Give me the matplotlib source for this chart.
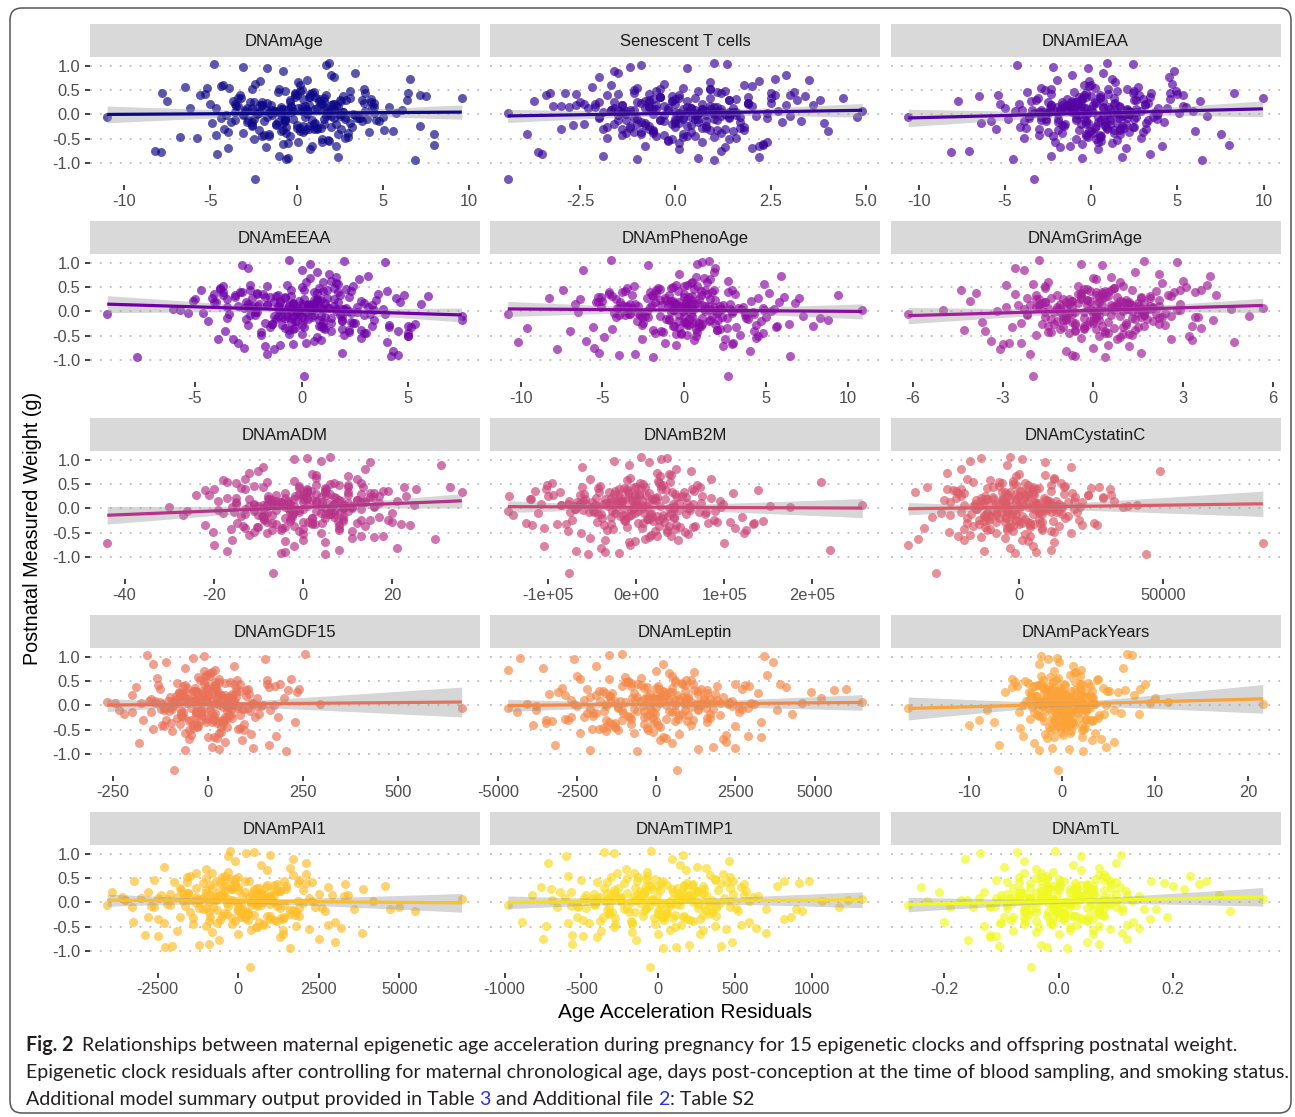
"""
Maternal epigenetic age acceleration vs offspring postnatal weight (Fig. 2)
15 clocks, facet-style scatter with linear fit and 95% CI band
"""

import matplotlib.pyplot as plt
import numpy as np
from matplotlib.patches import FancyBboxPatch
from matplotlib.transforms import IdentityTransform

plt.rcParams['font.family'] = ['Liberation Sans', 'DejaVu Sans']

# ---- data ----
# postnatal measured weight (shared outcome for every panel)
weight = [
    -1.33, 1.06, 1.03, -0.93, -0.92, 1.02, -0.90, 0.98, -0.88, 0.95, 0.90, -0.85, -0.82, 0.85, 0.80, -0.78, 0.77, -0.75, 0.73, -0.72,
    0.12, -0.05, 0.33, -0.41, 0.08, 0.27, -0.18, 0.02, 0.45, -0.29, 0.15, -0.62, 0.38, -0.09, 0.21, -0.35, 0.55, 0.04, -0.14, 0.31,
    -0.22, 0.09, -0.48, 0.18, 0.66, -0.03, 0.26, -0.57, 0.13, -0.11, 0.42, -0.26, 0.07, 0.35, -0.67, 0.19, -0.01, 0.5, -0.33, 0.11,
    0.24, -0.16, 0.6, -0.07, 0.03, -0.44, 0.29, 0.14, -0.24, 0.47, -0.12, 0.06, -0.52, 0.36, 0.17, -0.31, 0.01, 0.58, -0.2, 0.1,
    -0.38, 0.22, -0.06, 0.41, -0.15, 0.32, 0.05, -0.46, 0.63, -0.28, 0.16, -0.02, 0.28, -0.6, 0.39, -0.1, 0.2, -0.36, 0.07, 0.52,
    -0.19, 0.11, 0.34, -0.54, 0.0, 0.25, -0.08, 0.44, -0.27, 0.13, -0.65, 0.3, 0.04, -0.13, 0.49, -0.34, 0.18, -0.04, 0.68, -0.23,
    0.08, -0.42, 0.23, 0.02, -0.17, 0.4, -0.3, 0.12, 0.57, -0.09, -0.5, 0.26, 0.15, -0.21, 0.06, 0.37, -0.69, 0.1, -0.01, 0.29,
    -0.12, 0.46, -0.25, 0.03, 0.19, -0.4, 0.54, -0.06, 0.14, -0.32, 0.33, 0.0, -0.56, 0.22, 0.09, -0.16, 0.43, -0.37, 0.05, 0.27,
    0.17, -0.08, -0.45, 0.35, 0.61, -0.2, 0.07, -0.03, 0.3, -0.59, 0.13, 0.48, -0.14, 0.24, -0.27, 0.01, 0.39, -0.1, -0.47, 0.2,
    0.04, -0.35, 0.16, 0.53, -0.23, 0.1, -0.64, 0.28, -0.05, 0.42, 0.12, -0.18, 0.71, -0.39, 0.06, 0.21, -0.11, 0.34, -0.29, 0.15,
    0.05, -0.12, 0.22, -0.3, 0.14, -0.04, 0.36, -0.2, 0.1, -0.45, 0.28, 0.0, -0.15, 0.43, -0.26, 0.07, 0.18, -0.38, 0.25, -0.07,
    -0.02, 0.31, -0.33, 0.12, -0.09, 0.2, -0.5, 0.03, 0.39, -0.17, 0.09, -0.28, 0.48, -0.06, 0.15, -0.41, 0.26, -0.13, 0.01, 0.34,
    0.19, -0.24, 0.06, -0.36, 0.44, -0.1, 0.13, -0.48, 0.3, -0.01, -0.21, 0.4, -0.3, 0.11, 0.23, -0.08, 0.52, -0.43, 0.0, 0.16,
]

dnam_age = [
    -2.4, 1.9, -4.8, 6.9, -0.6, 1.7, -0.5, -3.1, 2.4, -1.7, -0.8, -1.0, -4.6, 3.4, 2.0, -7.9, 2.2, -8.2, 6.6, 0.8,
    0.5, -11.0, 9.6, 8.0, -1.3, -7.5, 3.1, -2.2, -7.8, 1.2, -0.3, 8.0, 7.5, 4.1, -3.6, 5.6, -5.2, 2.7, -1.9, 0.4,
    -1.2, 0.6, 2.8, -3.4, 0.1, -0.7, 4.3, 1.5, -2.6, 0.9, -5.3, 3.2, -0.2, 1.1, -1.8, 2.0, -4.1, 0.3, 5.1, -0.9,
    1.4, -2.9, 0.2, 3.7, -1.5, -0.4, 2.5, -6.2, 0.7, -1.1, 4.6, -3.0, 1.8, -0.1, 0.5, -2.2, 3.3, -4.4, 1.0, 6.1,
    -0.6, 2.1, -1.7, 0.8, -3.8, 1.3, -0.3, 3.0, -2.4, 0.0, 5.4, -1.4, 2.6, -0.8, -5.6, 1.6, -2.0, 0.4, 4.0, -1.0,
    2.3, -0.5, -3.2, 1.9, 0.6, -2.7, 3.6, -0.1, 1.2, -4.7, 0.9, 2.9, -1.6, 4.8, -0.7, 0.2, -3.5, 1.7, -2.1, 7.2,
    0.3, -1.9, 3.9, -0.9, 1.1, -3.3, 0.7, 2.2, -6.5, -0.2, 1.5, -2.5, 4.4, 0.0, -1.3, 2.7, -4.0, 0.6, 3.4, -0.4,
    -2.8, 1.0, -0.6, 5.8, -1.5, 2.4, -3.9, 0.5, 1.7, -0.8, 3.1, -2.3, 0.1, -5.0, 2.0, -1.1, 0.9, 4.2, -3.6, 1.3,
    -0.3, 3.5, -2.0, 0.8, -4.3, 1.6, -1.2, 2.5, 6.4, -0.5, -2.9, 0.2, 3.8, -1.7, 1.4, -3.1, 0.0, 2.8, -6.8, 0.7,
    1.8, -0.9, 4.5, -2.6, 0.4, -1.4, 2.3, -3.7, 5.0, -0.1, 1.1, -4.9, 0.6, 3.0, -2.2, 1.5, -0.7, -3.4, 2.6, 0.3,
    1.9, -3.6, 2.2, 1.0, 0.1, 2.0, 0.7, -1.2, -3.0, -1.6, 1.6, 2.5, -2.6, 4.0, 2.0, -2.5, 2.3, -3.1, -0.4, 2.2,
    -0.9, 4.3, 0.5, -0.8, -0.7, -2.0, -2.5, 4.5, 1.7, -0.8, -1.8, 0.2, 3.1, 2.8, -0.9, -1.6, -2.0, -0.7, 2.6, 1.6,
    -2.1, -2.6, 2.7, -4.0, 6.5, -2.5, 1.2, -5.8, 3.8, -3.1, -2.6, 7.2, -4.2, 1.6, 4.5, -4.4, 3.9, -4.7, 1.8, 2.4,
]

senescent_t = [
    -4.4, 1.0, 1.35, 1.0, -1.0, -0.9, 0.6, -1.2, 2.2, 0.3, -1.6, -1.9, -3.5, -1.5, 2.9, -3.6, -2.0, 1.2, 2.6, 0.1,
    -0.5, 4.75, 4.4, -3.9, 4.9, -3.7, 3.9, -4.4, -3.3, -3.0, -0.7, 2.3, 3.4, 0.2, -2.4, 4.0, -1.0, 1.5, 3.3, -0.6,
    0.4, -1.2, 1.6, -0.3, 0.9, 2.1, -2.0, 0.7, -0.8, 1.1, -1.5, 0.0, 2.7, -0.4, 1.3, -2.6, 0.5, -1.1, 1.8, 0.2,
    -0.9, 0.6, -1.7, 2.4, 0.1, -0.5, 1.4, -2.3, 0.8, 3.1, -1.3, 0.3, -0.2, 1.9, -3.0, 0.9, -0.6, 2.0, -1.0, 0.5,
    1.2, -2.1, 0.4, -0.7, 2.8, 0.0, -1.4, 1.0, -0.3, 0.7, -2.8, 1.6, -0.1, 2.3, -1.8, 0.6, 3.6, -0.9, 1.1, -0.4,
    -1.6, 0.9, 2.5, -0.2, 1.3, -2.5, 0.2, -1.1, 1.7, 0.4, -0.8, 3.2, -1.9, 0.8, -0.5, 1.5, -3.2, 0.1, 2.2, -1.2,
    0.7, -0.3, 1.9, -1.4, 0.0, 2.6, -0.7, 1.2, -2.2, 0.5, 1.4, -1.0, 0.3, -2.7, 1.0, -0.1, 2.0, -1.5, 0.8, 3.8,
    -0.4, 1.1, -1.8, 0.6, 2.9, -0.9, 0.2, -2.0, 1.5, -0.6, 0.9, -1.3, 2.4, 0.0, -0.2, 1.7, -2.9, 0.4, 1.2, -0.8,
    2.0, -1.1, 0.5, -0.4, 1.8, -2.4, 0.8, 3.0, -0.7, 0.1, -1.6, 1.3, -0.3, 2.5, -1.2, 0.6, -3.4, 1.0, 0.2, -0.5,
    1.6, -0.6, -2.1, 0.9, 0.3, -1.7, 2.2, -0.1, 1.4, -2.6, 0.7, -0.8, 3.5, -1.3, 0.0, 1.9, -0.4, 0.5, -1.9, 1.1,
    1.0, -1.5, 0.7, 1.3, -0.2, 1.2, -0.4, -0.1, -1.7, 0.3, 0.3, 1.4, -0.9, 1.2, 1.8, -1.3, 0.9, -0.6, -0.7, 1.4,
    -0.3, 1.6, 1.1, -0.6, 0.0, -1.4, -0.1, 2.4, 0.1, 0.1, -1.1, 0.8, 0.6, 1.7, -0.7, 0.2, -1.6, 0.0, 1.4, 0.1,
    -1.4, -0.7, 1.4, -1.1, 2.5, -1.0, 0.4, -1.8, 1.4, -1.5, -0.8, 3.0, -1.4, 0.7, 1.9, -2.0, 0.9, -1.4, 1.0, 1.0,
]

dnam_ieaa = [
    -3.3, 0.9, 2.4, 6.4, -4.5, -4.3, -0.5, -2.2, 1.8, -0.2, 4.8, -2.3, 3.4, 0.7, -1.1, -8.1, 4.5, -7.1, 1.2, 0.4,
    2.6, -10.6, 9.95, 7.5, 5.9, -7.7, -6.4, 5.1, 8.3, -5.5, -2.0, 8.0, -6.5, 3.8, -5.3, 6.0, -2.9, 0.1, -3.9, 4.6,
    0.8, -1.5, 2.9, -0.6, 1.4, -3.6, 0.2, -2.1, 3.9, -0.9, 1.0, -4.1, 2.2, 0.5, -1.8, 3.1, -0.3, -2.7, 1.7, 0.0,
    -1.2, 4.2, -0.4, 1.1, -2.5, 0.6, 2.6, -5.0, 0.3, -1.0, 3.3, -3.0, 1.5, -0.7, 5.3, -1.9, 0.9, -0.1, 2.0, -3.4,
    1.3, -0.8, 3.6, -2.3, 0.4, -1.4, 2.3, -0.2, 4.7, -3.8, 0.7, 1.9, -1.1, -0.5, 2.8, -2.6, 0.1, 3.0, -4.4, 1.0,
    -0.3, 2.1, -3.1, 0.6, 1.6, -1.7, -0.9, 3.5, 0.2, -2.4, 4.1, -0.6, 1.2, -5.8, 2.5, 0.0, -1.3, 6.7, -0.1, 1.8,
    -2.0, 0.5, 1.4, -3.3, 3.2, -0.4, 0.9, -1.6, 2.7, -4.8, 0.3, -0.9, 5.5, 1.1, -2.8, 0.0, 2.0, -1.0, 3.8, -0.5,
    0.6, -3.7, 2.4, -0.2, -1.4, 1.7, 0.2, -2.9, 4.4, -0.7, 1.3, -1.9, 0.4, 3.1, -4.0, 0.8, -0.3, 2.2, -1.1, 6.3,
    -0.8, 1.6, -2.2, 3.4, 0.0, -1.5, 2.9, 0.7, -3.2, 1.2, -0.4, 4.9, -2.6, 0.3, 1.9, -0.9, -5.4, 2.5, 0.5, -1.7,
    3.7, -0.1, 1.0, -2.3, 0.8, 2.1, -1.2, -3.5, 0.4, 5.0, -0.6, 1.5, -2.0, 0.1, 2.6, -4.2, 1.1, -0.5, 3.2, -1.6,
    1.5, -2.9, 1.3, 1.7, -0.3, 1.8, -0.3, -0.6, -2.9, -0.3, 0.7, 2.2, -1.9, 2.4, 2.5, -2.4, 1.6, -1.7, -1.0, 2.1,
    -0.7, 3.0, 1.3, -1.1, -0.4, -2.3, -0.9, 3.9, 0.5, -0.2, -1.8, 0.9, 1.5, 2.6, -1.2, -0.3, -2.5, -0.3, 2.2, 0.5,
    -2.3, -1.6, 2.2, -2.5, 4.6, -1.9, 0.7, -3.9, 2.5, -2.7, -1.7, 5.3, -3.0, 1.1, 3.3, -3.6, 2.1, -3.0, 1.5, 1.7,
]

dnam_eeaa = [
    0.1, -0.6, 2.0, -7.7, 4.2, 3.9, 4.5, 0.4, -1.6, -2.8, -2.5, 1.9, 4.3, 0.0, 0.7, -1.3, 1.3, -2.7, 3.1, -1.7,
    -3.0, -9.1, 4.8, -3.6, 2.1, -4.2, 7.5, -5.7, -4.7, 3.3, 5.6, 4.0, -2.1, 7.5, -5.1, 1.0, -2.4, -6.0, -0.8, 5.9,
    -0.5, 1.2, -1.9, 0.6, 2.7, -0.2, 1.5, -3.2, 0.3, -0.9, 2.3, -1.4, 0.8, 3.6, -0.4, 1.7, -2.2, 0.0, 4.1, -1.1,
    0.9, -2.6, 0.2, 1.8, -0.7, 3.0, -1.5, 0.5, 2.4, -3.8, 1.1, -0.3, 0.7, -1.8, 2.9, 0.1, -1.0, 1.6, -4.4, 0.4,
    2.2, -0.1, -3.4, 1.0, 0.3, -1.2, 3.8, -0.6, 1.4, 0.0, -2.0, 2.6, -0.8, 0.6, -2.9, 1.9, 4.6, -0.4, 0.9, -1.6,
    -0.2, 1.5, -1.1, 2.8, -0.5, 0.7, -2.4, 1.2, -0.9, 3.3, 0.2, -1.7, 2.0, -3.5, 0.8, -0.3, 1.1, -5.3, 0.4, 2.5,
    1.3, -1.9, 0.6, -0.1, 3.4, -2.8, 0.9, -0.6, 1.7, -1.3, 5.0, 0.1, -0.4, 2.3, -2.2, 0.7, -1.0, 3.1, 0.2, -3.1,
    0.0, 2.1, -1.4, 0.5, -2.6, 1.4, -0.7, 3.9, 0.3, -1.5, 1.8, -0.2, -3.9, 0.8, 2.6, -1.2, 0.1, 1.1, -0.9, 4.4,
    -1.0, 0.6, 2.9, -2.1, 1.0, -0.3, 0.4, -4.6, 2.2, 0.9, -1.6, 1.5, -0.5, 3.5, -2.5, 0.2, 1.7, -0.7, 0.0, -1.3,
    1.9, -0.8, 0.3, 2.4, -1.7, 0.6, -3.0, 1.2, -0.1, 4.0, -2.3, 0.8, 1.6, -0.6, -1.1, 2.8, 0.5, -3.7, 1.0, -0.4,
    1.0, -1.1, -1.0, 5.0, -1.6, 2.3, -4.1, 1.9, -3.5, 5.0, -2.3, 2.2, 0.1, -2.4, 5.3, -2.7, -0.4, 2.8, -3.5, 2.9,
    -0.2, -0.5, 5.1, -2.1, 0.9, -4.1, 5.0, 3.4, -3.7, 1.9, -2.5, 4.1, -3.8, 3.2, -2.5, 4.5, -5.0, 1.4, 2.1, -3.1,
    -4.0, 1.4, 1.6, 1.9, -0.5, -0.4, -0.6, 2.0, -0.8, -2.1, 1.0, 0.6, 0.8, 0.0, 0.7, -2.2, -3.7, 2.2, 1.6, 0.0,
]

dnam_phenoage = [
    2.7, -4.5, 1.5, -1.9, 6.5, 1.1, -4.0, 0.8, -3.0, -2.2, 1.9, -5.2, 4.0, -6.2, 1.8, -7.8, -0.3, -5.5, 5.9, 2.4,
    -3.5, -10.8, 9.4, -7.0, 4.8, -8.3, 8.8, 10.9, -7.4, 7.9, -6.7, -10.2, 5.2, 7.3, -5.0, -9.6, -0.5, 2.2, 8.3, -4.4,
    0.7, -2.1, 3.4, -0.9, 1.6, -4.3, 0.2, 2.5, -1.4, 5.0, -0.4, 1.1, -3.2, 0.0, 2.9, -1.8, 4.2, -0.7, -5.6, 1.3,
    -1.1, 3.9, 0.5, -2.7, 1.9, -0.2, 6.1, -3.8, 0.9, -1.5, 2.3, 0.1, -4.9, 1.4, -0.6, 3.2, -2.3, 0.4, 4.7, -0.1,
    2.0, -0.8, -3.3, 1.0, 0.3, -1.9, 5.5, -0.5, 2.7, -2.6, 0.6, 3.7, -1.2, -6.0, 1.7, 0.0, -0.3, 2.2, -4.1, 0.8,
    -0.4, 1.5, -2.0, 4.4, -0.1, 0.9, -3.6, 1.8, 0.2, -1.0, 3.0, -5.1, 0.6, 2.6, -1.6, -0.3, 6.8, -2.8, 1.2, 0.1,
    3.3, -1.3, 0.4, -0.7, 2.1, -4.6, 1.0, -0.2, 4.9, -2.4, 0.7, 1.6, -3.0, 0.0, 2.8, -1.7, -0.5, 3.6, -6.5, 0.3,
    -2.2, 0.6, 1.9, -0.6, 5.8, -1.4, 0.2, -3.4, 2.4, 0.9, -0.9, 1.3, -2.6, 4.1, 0.0, -1.1, 2.9, -4.4, 0.5, 7.0,
    0.8, -0.3, -1.8, 3.1, 1.4, -2.9, 0.1, 2.0, -5.3, 0.6, 1.1, -0.8, 3.8, -1.5, 0.3, 5.3, -2.1, 1.7, -0.2, -3.9,
    1.2, 2.6, -0.5, 0.0, -2.5, 1.8, -1.2, 4.5, 0.4, -3.6, 2.2, -0.9, 0.7, -1.9, 3.5, 0.2, -4.2, 1.0, -0.7, 2.8,
    1.5, -2.6, -0.7, 5.7, -2.0, 2.9, -4.6, 1.5, -5.1, 4.8, -2.3, 3.0, -0.9, -1.7, 6.4, -4.0, 0.1, 2.0, -4.2, 3.7,
    -0.8, 0.5, 5.6, -2.8, 0.5, -5.4, 4.5, 4.9, -3.8, 1.6, -3.5, 4.4, -3.5, 4.3, -3.3, 4.3, -6.4, 1.1, 2.9, -3.2,
    -5.3, 0.5, 2.3, 0.7, 1.3, -1.5, -0.5, 0.2, 0.0, -3.5, 0.1, 2.7, -0.6, 0.2, 1.9, -4.0, -3.1, 0.8, 2.1, 0.5,
]

dnam_grimage = [
    -2.0, -1.8, 1.7, 0.4, -0.6, 2.8, -0.7, -0.4, -2.1, 0.3, -2.6, 1.6, -0.9, -2.3, 1.4, -3.1, 2.2, 0.0, 3.9, 1.2,
    1.9, -6.15, 4.1, -3.6, 5.67, -2.2, 4.0, -5.0, -4.4, 3.3, -1.1, 4.7, -3.9, 5.2, -4.1, 3.6, -2.9, 4.6, -0.3, 2.6,
    0.5, -0.9, 1.3, -1.7, 0.1, 2.4, -0.4, 0.8, -2.5, 1.6, -0.1, -1.3, 2.0, 0.3, -3.0, 1.0, -0.6, 3.1, -1.0, 0.7,
    -0.2, 1.8, -1.5, 0.6, 2.9, -0.8, 0.2, -2.1, 1.1, -0.3, 3.4, -1.2, 0.9, -0.5, 1.5, -2.7, 0.4, 2.3, -0.1, -1.8,
    1.4, -0.7, 0.0, 2.1, -1.4, 0.5, -2.3, 1.2, 3.0, -0.2, 0.8, -1.1, 1.9, -3.4, 0.3, 2.6, -0.9, 0.1, 1.6, -0.5,
    -1.2, 0.9, 2.5, -0.4, 1.0, -1.9, 0.2, 3.6, -0.6, 1.3, -2.8, 0.4, -0.1, 2.2, -1.6, 0.7, 1.7, -0.8, 0.0, -2.4,
    0.6, -1.5, 1.1, 0.2, -0.9, 2.7, -0.3, 1.5, -2.0, 0.9, 3.2, -1.0, 0.1, -3.7, 1.8, -0.4, 0.5, 2.0, -1.3, 0.8,
    2.3, -0.2, -1.7, 0.7, 1.2, -0.6, 3.8, -2.2, 0.3, 1.0, -1.2, 0.0, 2.6, -0.7, -2.9, 1.4, 0.6, -0.3, 1.9, -1.4,
    -0.5, 1.7, 0.4, -2.6, 0.9, 2.0, -1.1, 0.1, -0.4, 3.3, -1.8, 0.7, 1.3, -0.2, 2.4, -3.2, 0.5, -0.9, 1.0, 0.2,
    1.1, -0.3, 2.9, -1.6, 0.0, 0.8, -2.4, 1.6, -0.7, 0.4, 2.2, -1.0, 0.6, -4.3, 1.5, -0.1, 3.5, -1.9, 0.3, 1.2,
    1.2, -1.6, 0.9, 1.7, -0.2, 1.5, -0.4, 0.0, -1.9, 0.5, 0.3, 1.7, -0.9, 1.3, 2.2, -1.5, 1.1, -0.6, -0.8, 1.7,
    -0.3, 1.9, 1.5, -0.7, 0.1, -1.6, 0.2, 2.8, 0.1, 0.2, -1.2, 1.1, 0.7, 2.1, -0.8, 0.4, -1.8, 0.1, 1.7, 0.1,
    -1.6, -0.6, 1.6, -1.1, 2.9, -1.0, 0.6, -1.9, 1.6, -1.6, -0.7, 3.4, -1.5, 0.8, 2.2, -2.2, 1.0, -1.4, 1.3, 1.2,
]

dnam_adm = [
    -6.7, 6, 1, 5, -5, -2, -4, 4, -17, 15, 31, 8, 21, -9, 14, -2, -10, -20, -12, -43.9,
    3, -26, 35.6, -13, 25, -24, 17, -30, 33, 12, -19, 29.5, -22, 20, -15, 24, -8, 11, -27, 16,
    -3, 7, -11, 2, 10, -6, 0, 13, -15, 5, -1, 9, -8, 18, -4, 1, -13, 6, 22, -7,
    4, -9, 12, -2, -16, 8, 3, -5, 15, -1, 7, -12, 0, 19, -7, 2, 11, -18, 5, -3,
    -10, 1, 6, -14, 9, -4, 16, -1, 3, -8, 21, 0, -6, 11, -20, 4, -2, 14, -11, 7,
    2, -5, 10, -12, 5, 17, -3, -9, 0, 13, -16, 6, 1, -7, 8, -22, 12, -1, 3, 19,
    -8, 0, 15, -4, 7, -13, 2, 10, -2, -18, 4, 23, -6, 9, -10, 1, 5, -15, 13, -1,
    6, -11, -3, 11, 0, 8, -17, 3, 14, -6, 1, -9, 18, -4, 7, -14, 10, -2, 4, -21,
    12, -1, -7, 5, -13, 2, 9, -19, 0, 16, -5, 3, -10, 7, 20, -3, 1, -8, 11, -12,
    -2, 8, 3, -15, 13, -6, 0, 10, -11, 5, 17, -9, 2, -4, 9, -17, 6, 1, -7, 14,
    6.6, -12.9, 7.3, 4.2, -0.1, 7.1, 1.8, -4.1, -11, -5.0, 5.2, 9, -9.2, 13.4, 7.9, -9.0, 8.1, -10.4, -1.8, 8.2,
    -3.2, 15.0, 2.6, -3.3, -2.2, -7.6, -8.0, 16.0, 5.2, -2.4, -6.8, 1.1, 10.2, 10.2, -3.4, -4.8, -7.9, -2.4, 9.2, 4.9,
    -7.8, -8.7, 9.6, -13.5, 22.7, -8.8, 4.2, -20.1, 12.9, -11.0, -8.8, 25.3, -14.7, 5.4, 15.6, -15.5, 13, -16.2, 6.3, 8.5,
]

dnam_b2m = [
    -76000, 5000, 35000, -55000, -20000, 28000, -35000, -25000, -68000, 15000, -8000, 220000, -40000, -62000, 45000, -105000, 62000, -7000, 24000, 100000,
    -30000, -146000, 41000, -105000, 256700, -95000, 120000, 175000, 72000, -125000, 95000, 10000, 138000, -112000, 85000, -118000, 210000, 152000, -140000, 110000,
    12000, -38000, 55000, -5000, 27000, -61000, 3000, 40000, -22000, 78000, -14000, 19000, -47000, 66000, -2000, 33000, -70000, 8000, -29000, 48000,
    -9000, 24000, -52000, 71000, 1000, -33000, 44000, -16000, 88000, -41000, 16000, -3000, 59000, -24000, 6000, -80000, 37000, -11000, 29000, -57000,
    50000, -19000, 2000, -44000, 36000, 14000, -66000, 21000, -7000, 92000, -28000, 43000, -1000, -53000, 63000, 9000, -36000, 26000, -85000, 4000,
    -12000, 58000, -31000, 17000, -4000, 75000, -48000, 0, 31000, -21000, 47000, -59000, 11000, -15000, 69000, -37000, 22000, -6000, 39000, -73000,
    7000, -26000, 46000, -50000, 18000, -10000, 81000, -34000, 25000, -1000, -63000, 52000, -17000, 13000, -43000, 34000, -8000, 99000, -23000, 3000,
    -40000, 28000, -13000, 61000, -58000, 6000, 38000, -27000, 15000, -90000, 54000, -4000, 23000, -46000, 42000, -18000, 10000, 67000, -32000, -2000,
    20000, -54000, 35000, -9000, 85000, -39000, 1000, 49000, -25000, 14000, -67000, 30000, -6000, 57000, -45000, 8000, -20000, 40000, -78000, 18000,
    -3000, 45000, -60000, 26000, -14000, 64000, -35000, 11000, -49000, 5000, 73000, -29000, 37000, -11000, -71000, 21000, 56000, -42000, 2000, -16000,
    27000, -44000, -29000, 134000, -50000, 61000, -115000, 43000, -108000, 125000, -64000, 60000, -8000, -62000, 144000, -85000, -9000, 64000, -100000, 79000,
    -14000, -9000, 133000, -64000, 17000, -121000, 122000, 96000, -102000, 43000, -77000, 106000, -101000, 89000, -76000, 112000, -144000, 30000, 58000, -87000,
    -119000, 26000, 43000, 37000, -3000, -24000, -18000, 35000, -20000, -70000, 15000, 28000, 8000, -2000, 23000, -75000, -96000, 44000, 42000, 0,
]

dnam_cystatinc = [
    -28800, -3000, -13000, 44000, -1500, 1000, 6000, -17000, -12000, 9000, -4000, 11000, -3000, 18000, -20000, 5000, 49000, -38400, -25000, 84600,
    -5000, 8000, -36000, -33000, 41000, 24000, -30000, 36000, -32000, 26000, 33000, -35000, 3000, -27000, 29000, 22000, -7000, 38000, -24000, -19000,
    2000, -8000, 12000, -15000, -1000, 7000, -20000, 4000, -5000, 15000, -11000, 0, 10000, -22000, 3000, -6000, 19000, -2000, -14000, 6000,
    -9000, 1000, -18000, 13000, -4000, 8000, -1000, -12000, 21000, -7000, 5000, -16000, 2000, 11000, -26000, -3000, 9000, -10000, 16000, 0,
    4000, -13000, -6000, 7000, 17000, -21000, 1000, -2000, 12000, -8000, 3000, -15000, 24000, -5000, 6000, -11000, -1000, 14000, -19000, 2000,
    -7000, 10000, -3000, -17000, 5000, 0, 20000, -9000, 8000, -24000, 1000, -4000, 13000, -12000, 3000, 27000, -6000, -1000, 9000, -14000,
    6000, -10000, 2000, 15000, -5000, -20000, 4000, 11000, -2000, -8000, 18000, 0, -13000, 7000, -3000, -23000, 12000, 1000, -7000, 5000,
    -1000, 16000, -12000, 3000, -9000, 8000, -16000, -4000, 22000, 0, -6000, 10000, -21000, 2000, 14000, -10000, 5000, -2000, -15000, 32000,
    9000, -4000, -11000, 1000, 12000, -18000, -7000, 6000, 3000, -13000, 17000, -1000, -8000, 29000, -5000, 0, -25000, 7000, 11000, -3000,
    -14000, 4000, 19000, -6000, -1000, 10000, -19000, 2000, -9000, 25000, 6000, -12000, 0, -3000, 15000, -22000, 8000, -5000, 1000, 13000,
    8600, -16600, 8600, 7200, -900, 9700, 500, -4400, -15200, -4200, 5400, 12000, -11400, 15600, 11900, -12400, 9800, -11800, -3800, 11200,
    -4200, 18300, 5200, -5000, -2500, -11200, -8000, 21200, 4900, -2400, -9500, 3000, 11000, 13900, -5400, -4300, -11900, -2400, 12300, 4700,
    -11500, -10300, 12500, -16100, 27900, -11200, 4800, -24200, 15600, -14700, -10700, 31600, -18000, 6700, 19600, -20200, 14600, -19200, 8400, 10500,
]

dnam_gdf15 = [
    -88, 255, -160, 205, -60, -10, 30, -40, 120, 150, -110, 10, 160, -145, 70, -180, -60, 45, 20, 90,
    -30, 669, 240, -120, -265, 235, -220, 295, 190, -170, 200, 180, -190, -235, -200, 230, 220, -245, -150, 210,
    15, -45, 80, -100, 5, 55, -70, 30, -20, 110, -130, 0, 65, -55, 25, -85, 140, -10, 40, -35,
    -65, 20, -5, 95, -120, 35, -40, 10, 125, -80, 50, -15, -95, 75, 0, -50, 175, -25, 60, -140,
    40, -15, 105, -60, -30, 15, -175, 85, -5, 45, -75, 130, 20, -45, 0, -115, 60, 25, -90, 155,
    -20, 70, -125, 35, 5, -55, 90, -10, 50, -150, 15, -35, 115, -65, 30, -5, 75, -100, 10, 185,
    55, -25, 0, -90, 135, 20, -45, 65, -135, 5, 95, -15, 40, -70, 25, 160, -50, -5, 80, -30,
    -10, 45, -80, 15, 100, -40, 30, -115, 60, -20, 0, 145, -60, 35, -155, 10, 70, -30, 120, -75,
    25, -95, 50, -35, 5, 85, -125, 40, -15, 115, -50, 20, -200, 65, -5, 30, -65, 165, -40, 0,
    -55, 10, 130, -20, 45, -105, 0, 75, -45, 20, -85, 55, -10, 95, -140, 35, -30, 105, 15, -60,
    45, -101, 44, 38, -11, 52, -3, -30, -94, -28, 26, 65, -71, 85, 65, -78, 52, -73, -28, 61,
    -29, 101, 26, -35, -19, -71, -50, 119, 22, -18, -61, 13, 58, 76, -37, -29, -75, -19, 67, 21,
    -73, -64, 68, -98, 156, -70, 23, -145, 85, -91, -67, 178, -109, 34, 109, -123, 78, -116, 44, 56,
]

dnam_leptin = [
    650, -1100, -1500, -600, -2100, 3400, 1300, -4300, 2500, -2600, 3700, 1800, -3200, 200, -1900, 500, -3600, 2200, -4700, 100,
    1500, -4700, 6000, -3900, 6508, 4900, 4300, -4100, 3900, -3500, 5200, 2900, 4100, -3800, -2900, 3300, -2400, 4600, -4400, 5600,
    -300, 900, -1800, 2100, 400, -1200, 1600, -2400, 700, -600, 2800, -100, 1100, -3000, 300, -1500, 2400, -900, 0, 1900,
    1300, -2000, 500, -700, 3100, -1300, 200, 1700, -2700, 800, -400, 2300, -1600, 0, 1000, -3300, 600, -1000, 2000, -200,
    -1400, 300, 2600, -500, -2200, 1200, 100, -1700, 3500, -800, 1500, -2500, 400, 2200, -1100, 900, -300, -3500, 1800, 600,
    700, -2300, 1400, -100, 300, -1400, 2700, -600, -2900, 1000, 200, -1800, 3000, 500, -900, 1600, -2100, 0, 1200, -400,
    -1000, 2500, -200, -1600, 800, 1900, -2800, 400, -500, 1300, -1200, 3200, 100, -2000, 600, -300, 2100, -1300, -3800, 900,
    400, -800, 1700, -2600, 0, 1100, -1500, 2900, -400, 600, -2200, 1400, -700, 200, 2400, -1900, 800, -100, 1600, -3100,
    -600, 1800, -1300, 500, -2500, 1000, 2300, -200, -1700, 700, 0, -1000, 2600, -3400, 300, 1300, -800, 3800, -300, 100,
    2000, -1500, 200, 1100, -2300, -500, 3300, 500, -1200, 900, -2700, 1700, 0, -400, 1400, -1900, 600, 2700, -1100, -100,
    870, -1650, 660, 1150, -270, 1100, -390, -230, -1770, 100, 240, 1300, -1050, 1160, 1610, -1430, 840, -810, -720, 1300,
    -430, 1600, 970, -690, -160, -1460, -250, 2260, 50, -50, -1140, 670, 600, 1580, -770, 40, -1610, -100, 1320, 90,
    -1480, -820, 1280, -1300, 2480, -1090, 360, -2030, 1320, -1580, -900, 2930, -1580, 590, 1840, -2090, 940, -1550, 910, 940,
]

dnam_packyears = [
    -0.4, 7.0, 7.5, 2.3, -2.4, -2.2, 0.8, -0.5, -1.1, -1.5, -0.3, 4.7, -6.7, -2.5, 1.2, -3.0, 6.6, 5.6, 2.1, 3.3,
    -3.5, -16.5, 8.4, -10.0, 11.4, -6.05, 8.3, 21.6, 8.9, -8.9, 10.0, -4.2, -5.3, -8.0, 7.8, -7.3, -5.3, 9.5, -4.6, 6.8,
    0.5, -1.8, 2.4, -0.6, 1.3, -3.2, 0.0, 3.6, -1.1, 0.8, -2.5, 1.9, -0.3, 4.4, -1.6, 0.2, 2.9, -4.0, 1.1, -0.8,
    2.1, -0.4, -2.2, 1.5, 0.3, -1.4, 5.1, -0.9, 0.7, -3.6, 2.6, -0.1, 1.0, -2.0, 3.3, -0.6, 0.4, -1.3, 4.0, -2.8,
    -1.0, 3.0, 0.6, -2.6, 1.7, -0.2, 2.2, -4.5, 0.9, -0.7, 1.4, -1.9, 6.0, 0.1, -3.1, 2.5, -0.5, 1.2, -1.5, 3.8,
    0.2, -2.3, 1.8, -0.1, 4.7, -1.2, 0.6, 2.0, -3.4, 0.0, -0.8, 3.2, -1.7, 1.1, -5.0, 0.4, 2.7, -0.3, 1.5, -2.1,
    1.6, -0.5, -1.6, 3.5, 0.1, -2.9, 0.8, 1.9, -0.4, 5.6, -1.3, 0.3, 2.3, -2.4, 0.7, -0.9, 4.2, -3.8, 1.0, 0.0,
    -0.2, 2.8, -1.1, 0.5, -3.3, 1.3, 3.9, -0.7, 0.2, -1.9, 2.1, -4.2, 0.9, -0.4, 1.7, 6.4, -2.2, 0.3, -1.0, 2.4,
    3.1, -1.4, 0.4, -0.2, 2.0, -2.7, 1.2, -0.6, 4.9, -1.8, 0.6, 1.4, -3.0, 0.0, 2.6, -0.9, -4.8, 1.8, 0.2, -1.2,
    -0.6, 1.0, 3.4, -2.0, 0.5, -0.1, 2.2, -3.5, 1.6, 0.3, -1.5, 4.5, -0.8, 0.9, -2.6, 1.3, 0.0, -1.7, 3.0, 0.7,
    1.4, -1.7, 0.3, 3.4, -0.7, 2.2, -1.9, 0.8, -2.9, 2.5, -0.6, 2.3, -0.6, 0.2, 3.9, -2.2, 0.8, 0.7, -1.9, 2.6,
    -0.3, 1.4, 3.3, -1.3, 0.5, -2.8, 2.2, 3.6, -1.4, 1.0, -1.9, 2.6, -0.9, 3.0, -1.6, 2.2, -3.3, 0.7, 2.3, -1.1,
    -2.8, 0.1, 2.0, -0.1, 2.2, -0.9, 0.3, -0.7, 1.0, -2.1, -0.1, 3.0, -0.8, 0.7, 2.1, -2.6, -0.6, -0.2, 1.7, 1.0,
]

dnam_pai1 = [
    380, -240, 490, 1600, -2270, 230, -2050, 1000, -1200, -300, 1700, -900, 3000, -100, 2100, -600, 700, 2500, -2300, 1300,
    -3600, -4060, 4570, -3250, 6940, 3860, 5500, 4200, -3230, -2800, 3410, 3840, 3330, 5000, -3900, -2500, -1500, -3500, 4700, 2800,
    300, -1100, 1800, -500, 900, -2200, 0, 1400, -700, 2600, -1600, 500, -300, 1100, -2900, 700, 2000, -1000, 200, -1900,
    -400, 1600, -1300, 600, 2300, -200, -1800, 1000, 100, -2600, 1300, -700, 3200, -100, 800, -1400, 400, 2100, -900, -3000,
    1200, -600, 400, -2000, 1700, 0, -1200, 2800, -300, 900, -2400, 500, 1500, -800, -100, 2400, -1700, 300, 1000, -500,
    -1500, 700, -200, 2200, -900, 1100, -2700, 200, 1900, -600, 0, -1300, 800, 3600, -400, 1400, -2100, 600, -1000, 1600,
    500, -2300, 1300, -100, 2700, -1100, 100, -500, 1700, -3300, 600, 2000, -1600, 300, -200, 1200, -2500, 900, 0, -800,
    -1000, 1900, 200, -1700, 700, 3000, -400, -2100, 1000, -200, 1500, -1200, 400, -2800, 2200, 0, -700, 1100, -1500, 500,
    2500, -300, -1400, 900, -800, 1800, -2200, 100, 600, -1900, 3300, -100, -1100, 1300, -500, 400, 2100, -2600, 800, -1000,
    -700, 1000, 2900, -1600, 300, -2500, 1400, -200, 700, 2300, -1300, 0, 1600, -900, -3500, 500, 1900, -400, -1800, 1100,
    660, -1210, 220, 1430, -440, 990, -880, 110, -1650, 770, -220, 1100, -660, 330, 1760, -1320, 440, -110, -990, 1210,
    -330, 880, 1320, -770, 0, -1540, 550, 1870, -550, 220, -1100, 990, -220, 1430, -880, 660, -1760, 110, 1100, -440,
    -1540, -330, 990, -550, 1430, -770, 110, -990, 660, -1320, -440, 1870, -880, 330, 1210, -1650, 0, -660, 770, 550,
]

dnam_timp1 = [
    -51, -44, -350, 30, 118, -290, 412, 160, 200, -600, 90, -560, 480, 460, -720, -145, 140, -750, 250, -400,
    620, -980, 777, -890, 1330, -700, 936, 1070, 985, 868, -820, 700, 560, 1180, -640, 820, -590, 1240, 900, -760,
    50, -240, 370, -90, 180, -420, 10, 290, -160, 510, -330, 110, -40, 220, -560, 140, 400, -200, 30, -380,
    -120, 310, -270, 80, 460, -20, -350, 200, 0, -500, 260, -150, 640, -60, 160, -280, 70, 420, -190, -610,
    230, -100, 60, -400, 350, -10, -250, 540, -70, 170, -470, 90, 300, -170, 20, 470, -330, 40, 190, -130,
    -300, 130, -50, 440, -180, 240, -530, 30, 380, -110, 0, -260, 150, 700, -80, 270, -420, 120, -210, 330,
    100, -450, 250, -30, 520, -220, 20, -90, 340, -660, 110, 390, -310, 60, -40, 230, -490, 180, 0, -150,
    -200, 370, 40, -340, 130, 590, -70, -410, 200, -30, 290, -240, 80, -570, 430, 10, -140, 210, -300, 90,
    490, -60, -280, 170, -160, 350, -430, 20, 120, -370, 650, -20, -220, 260, -100, 70, 410, -520, 150, -200,
    -140, 190, 560, -310, 50, -480, 270, -40, 140, 450, -250, 0, 310, -180, -690, 100, 380, -80, -360, 220,
    240, -470, 260, 160, -10, 260, 60, -150, -400, -170, 190, 330, -330, 490, 290, -330, 290, -380, -70, 300,
    -120, 540, 100, -120, -80, -280, -290, 590, 190, -90, -250, 40, 370, 380, -130, -170, -290, -80, 340, 170,
    -290, -320, 350, -490, 820, -320, 150, -730, 470, -410, -320, 920, -530, 200, 570, -570, 470, -590, 230, 310,
]

dnam_tl = [
    -0.048, -0.007, -0.073, 0.015, -0.02, -0.137, -0.105, 0.109, -0.03, 0.04, -0.164, 0.07, 0.05, -0.06, 0.1, -0.158, 0.025, 0.12, -0.095, -0.12,
    0.08, -0.263, 0.2, -0.2, 0.357, 0.22, 0.3, -0.23, 0.257, 0.19, 0.28, 0.11, 0.245, -0.19, -0.21, 0.16, 0.23, -0.17, 0.17, -0.24,
    0.01, -0.05, 0.07, -0.02, 0.04, -0.09, 0.0, 0.06, -0.03, 0.11, -0.07, 0.02, -0.01, 0.05, -0.12, 0.03, 0.09, -0.04, 0.01, -0.08,
    -0.03, 0.06, -0.06, 0.02, 0.1, -0.01, -0.08, 0.04, 0.0, -0.11, 0.05, -0.03, 0.14, -0.02, 0.03, -0.06, 0.01, 0.08, -0.04, -0.14,
    0.05, -0.02, 0.01, -0.09, 0.07, 0.0, -0.05, 0.12, -0.01, 0.03, -0.1, 0.02, 0.06, -0.04, 0.0, 0.1, -0.07, 0.01, 0.04, -0.03,
    -0.06, 0.03, -0.01, 0.09, -0.04, 0.05, -0.12, 0.01, 0.08, -0.02, 0.0, -0.05, 0.03, 0.15, -0.02, 0.06, -0.09, 0.02, -0.04, 0.07,
    0.02, -0.1, 0.05, -0.01, 0.11, -0.05, 0.0, -0.02, 0.07, -0.15, 0.02, 0.08, -0.07, 0.01, -0.01, 0.05, -0.11, 0.04, 0.0, -0.03,
    -0.04, 0.08, 0.01, -0.07, 0.03, 0.13, -0.02, -0.09, 0.04, -0.01, 0.06, -0.05, 0.02, -0.13, 0.09, 0.0, -0.03, 0.05, -0.06, 0.02,
    0.1, -0.01, -0.06, 0.04, -0.03, 0.07, -0.1, 0.0, 0.03, -0.08, 0.14, 0.0, -0.05, 0.06, -0.02, 0.01, 0.09, -0.12, 0.03, -0.04,
    -0.03, 0.04, 0.12, -0.07, 0.01, -0.11, 0.06, -0.01, 0.03, 0.1, -0.05, 0.0, 0.07, -0.04, -0.16, 0.02, 0.08, -0.02, -0.08, 0.05,
    0.055, -0.09, 0.052, 0.051, -0.002, 0.062, 0.003, -0.018, -0.085, -0.014, 0.033, 0.075, -0.06, 0.09, 0.078, -0.069, 0.06, -0.059, -0.021, 0.072,
    -0.019, 0.108, 0.04, -0.026, -0.009, -0.063, -0.035, 0.129, 0.029, -0.007, -0.052, 0.026, 0.063, 0.087, -0.029, -0.015, -0.068, -0.008, 0.077, 0.028,
    -0.065, -0.052, 0.077, -0.084, 0.162, -0.059, 0.032, -0.13, 0.092, -0.081, -0.055, 0.184, -0.096, 0.043, 0.117, -0.112, 0.083, -0.102, 0.054, 0.064,
]

clock_names = ['DNAmAge', 'Senescent T cells', 'DNAmIEAA', 'DNAmEEAA', 'DNAmPhenoAge', 'DNAmGrimAge',
               'DNAmADM', 'DNAmB2M', 'DNAmCystatinC', 'DNAmGDF15', 'DNAmLeptin', 'DNAmPackYears',
               'DNAmPAI1', 'DNAmTIMP1', 'DNAmTL']
clock_x = [dnam_age, senescent_t, dnam_ieaa, dnam_eeaa, dnam_phenoage, dnam_grimage,
           dnam_adm, dnam_b2m, dnam_cystatinc, dnam_gdf15, dnam_leptin, dnam_packyears,
           dnam_pai1, dnam_timp1, dnam_tl]

x_tick_values = [
    [-10, -5, 0, 5, 10], [-2.5, 0, 2.5, 5], [-10, -5, 0, 5, 10],
    [-5, 0, 5], [-10, -5, 0, 5, 10], [-6, -3, 0, 3, 6],
    [-40, -20, 0, 20], [-1e5, 0, 1e5, 2e5], [0, 50000],
    [-250, 0, 250, 500], [-5000, -2500, 0, 2500, 5000], [-10, 0, 10, 20],
    [-2500, 0, 2500, 5000], [-1000, -500, 0, 500, 1000], [-0.2, 0, 0.2],
]
x_tick_labels = [
    ['-10', '-5', '0', '5', '10'], ['-2.5', '0.0', '2.5', '5.0'], ['-10', '-5', '0', '5', '10'],
    ['-5', '0', '5'], ['-10', '-5', '0', '5', '10'], ['-6', '-3', '0', '3', '6'],
    ['-40', '-20', '0', '20'], ['-1e+05', '0e+00', '1e+05', '2e+05'], ['0', '50000'],
    ['-250', '0', '250', '500'], ['-5000', '-2500', '0', '2500', '5000'], ['-10', '0', '10', '20'],
    ['-2500', '0', '2500', '5000'], ['-1000', '-500', '0', '500', '1000'], ['-0.2', '0.0', '0.2'],
]
y_tick_values = [-1.0, -0.5, 0.0, 0.5, 1.0]
y_tick_labels = ['-1.0', '-0.5', '0.0', '0.5', '1.0']

for name, xs in zip(clock_names, clock_x):
    assert len(xs) == len(weight), (name, len(xs))

# ---- layout in pixels ----
W, H = 1295, 1117
fig = plt.figure(figsize=(W / 100, H / 100), dpi=100)
fig.patch.set_facecolor('white')

col_left = [89.5, 490, 890.5]
row_top = [24, 221, 418, 615, 812]
panel_w, strip_h, panel_h = 390, 33, 128


def px_axes(left, top, width, height):
    return fig.add_axes([left / W, 1 - (top + height) / H, width / W, height / H])


colors = plt.cm.plasma(np.linspace(0, 1, len(clock_names)))
y = np.array(weight, dtype=float)
y_pad = 0.05 * (y.max() - y.min())

for i, name in enumerate(clock_names):
    r, c = divmod(i, 3)
    x = np.array(clock_x[i], dtype=float)

    # panel strip
    sax = px_axes(col_left[c], row_top[r], panel_w, strip_h)
    sax.set_facecolor('#D9D9D9')
    sax.set_xticks([])
    sax.set_yticks([])
    for sp in sax.spines.values():
        sp.set_visible(False)
    sax.text(0.5, 0.47, name, ha='center', va='center', fontsize=12, color='#1A1A1A',
             transform=sax.transAxes)

    ax = px_axes(col_left[c], row_top[r] + strip_h, panel_w, panel_h)
    for sp in ax.spines.values():
        sp.set_visible(False)

    x_pad = 0.05 * (x.max() - x.min())
    ax.set_xlim(x.min() - x_pad, x.max() + x_pad)
    ax.set_ylim(y.min() - y_pad, y.max() + y_pad)

    ax.scatter(x, y, s=42, color=colors[i], alpha=0.68, linewidths=0, zorder=2)

    # linear fit + 95% CI
    slope, intercept = np.polyfit(x, y, 1)
    xs = np.linspace(x.min(), x.max(), 80)
    fit = intercept + slope * xs
    n = len(x)
    resid = y - (intercept + slope * x)
    s_err = np.sqrt(np.sum(resid ** 2) / (n - 2))
    sxx = np.sum((x - x.mean()) ** 2)
    se = s_err * np.sqrt(1 / n + (xs - x.mean()) ** 2 / sxx)
    ax.fill_between(xs, fit - 1.969 * se, fit + 1.969 * se, color='#999999', alpha=0.4,
                    linewidth=0, zorder=3)
    ax.plot(xs, fit, color=colors[i], lw=2.3, zorder=4, solid_capstyle='butt')

    ax.set_yticks(y_tick_values)
    ax.yaxis.grid(True, color='#BDBDBD', linewidth=1.3, linestyle=(0, (1, 4.5)), zorder=0)
    ax.set_axisbelow(True)
    ax.set_xticks(x_tick_values[i])
    ax.set_xticklabels(x_tick_labels[i])
    ax.tick_params(axis='x', length=3.6, width=1.3, color='#333333', labelsize=11.8,
                   labelcolor='#4D4D4D', pad=3)
    if c == 0:
        ax.set_yticklabels(y_tick_labels)
        ax.tick_params(axis='y', length=3.6, width=1.3, color='#333333', labelsize=11.8,
                       labelcolor='#4D4D4D', pad=3)
    else:
        ax.tick_params(axis='y', length=0, labelleft=False)

# axis titles
fig.text(685 / W, 1 - 1013 / H, 'Age Acceleration Residuals', ha='center', va='center',
         fontsize=15, color='black')
fig.text(33 / W, 1 - 528 / H, 'Postnatal Measured Weight (g)', ha='center', va='center',
         rotation=90, fontsize=14.2, color='black')

# outer frame
frame = FancyBboxPatch((10, H - 1113), 1281, 1105, boxstyle='round,pad=0,rounding_size=12',
                       transform=IdentityTransform(), fill=False, edgecolor='#555555', lw=1.1)
fig.patches.append(frame)

# ---- caption ----
renderer = fig.canvas.get_renderer()
cap_font = ['Lato', 'DejaVu Sans']
cap_color = '#231F20'
link_color = '#2B33D8'


def text_width(s, size, weight='normal'):
    t = fig.text(0, 0, '|' + s + '|', fontsize=size, family=cap_font, fontweight=weight)
    t2 = fig.text(0, 0, '||', fontsize=size, family=cap_font, fontweight=weight)
    w = t.get_window_extent(renderer).width - t2.get_window_extent(renderer).width
    t.remove()
    t2.remove()
    return w


def draw_line(x_px, base_px, pieces, size):
    x_cur = x_px
    for s, color, weight in pieces:
        fig.text(x_cur / W, 1 - base_px / H, s, fontsize=size, family=cap_font,
                 fontweight=weight, color=color, va='baseline', ha='left')
        x_cur += text_width(s, size, weight)


line1 = 'Relationships between maternal epigenetic age acceleration during pregnancy for 15 epigenetic clocks and offspring postnatal weight.'
line2 = 'Epigenetic clock residuals after controlling for maternal chronological age, days post-conception at the time of blood sampling, and smoking status.'

cap_size = 13.0
w_fig = text_width('Fig. 2', cap_size, 'bold')
w_l1 = text_width(line1, cap_size)
cap_size = cap_size * (1236 - 26 - 9) / (w_fig + w_l1)

draw_line(26, 1051, [('Fig. 2', cap_color, 'bold')], cap_size)
draw_line(26 + text_width('Fig. 2', cap_size, 'bold') + 9, 1051, [(line1, cap_color, 'normal')], cap_size)
draw_line(26, 1078, [(line2, cap_color, 'normal')], cap_size)
draw_line(26, 1105, [('Additional model summary output provided in Table ', cap_color, 'normal'),
                     ('3', link_color, 'normal'),
                     (' and Additional file ', cap_color, 'normal'),
                     ('2', link_color, 'normal'),
                     (': Table S2', cap_color, 'normal')], cap_size)

fig.savefig('out.png', dpi=100)
